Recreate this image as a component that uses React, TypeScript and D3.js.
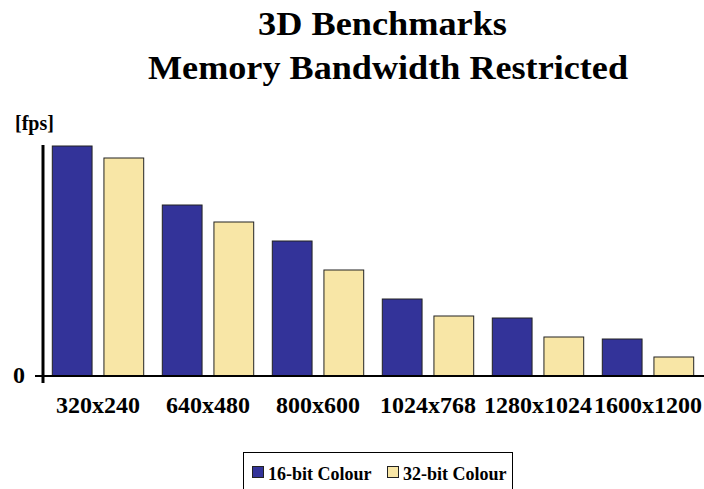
import React from 'react';
import * as d3 from 'd3';

const categories = ['320x240', '640x480', '800x600', '1024x768', '1280x1024', '1600x1200'];
const series16 = [230, 171, 135, 77, 58, 37];
const series32 = [218, 154, 106, 60, 39, 19];
const seriesNames = ['16-bit Colour', '32-bit Colour'];
const seriesColors = ['#333399', '#f8e6a6'];

const W = 704;
const H = 489;
const font = '"Liberation Serif", "Times New Roman", serif';

export default function App() {
  const ref = React.useRef<SVGSVGElement>(null);

  React.useEffect(() => {
    if (!ref.current) return;
    const svg = d3.select(ref.current);
    svg.selectAll('*').remove();

    const x0 = d3.scaleBand().domain(categories).range([43, 703]).paddingInner(0).paddingOuter(0);
    const x1 = d3.scaleBand().domain(seriesNames).range([0, x0.bandwidth()]).paddingInner(0.23).paddingOuter(0.18);
    const y = d3.scaleLinear().domain([0, 230]).range([376, 146]);

    // titles
    svg.append('text').attr('x', 258).attr('y', 35)
      .attr('textLength', 249).attr('lengthAdjust', 'spacingAndGlyphs')
      .style('font', `bold 34px ${font}`).text('3D Benchmarks');
    svg.append('text').attr('x', 148).attr('y', 79)
      .attr('textLength', 480).attr('lengthAdjust', 'spacingAndGlyphs')
      .style('font', `bold 34px ${font}`).text('Memory Bandwidth Restricted');
    svg.append('text').attr('x', 15).attr('y', 130)
      .style('font', `bold 20px ${font}`).text('[fps]');

    // bars
    const groups = svg.append('g').selectAll('g').data(categories).enter().append('g')
      .attr('transform', d => `translate(${x0(d)},0)`);
    groups.selectAll('rect')
      .data((_, i) => [series16[i], series32[i]].map((v, j) => ({ v, s: seriesNames[j], c: seriesColors[j] })))
      .enter().append('rect')
      .attr('x', d => x1(d.s)!)
      .attr('width', x1.bandwidth())
      .attr('y', d => y(d.v))
      .attr('height', d => y(0) - y(d.v))
      .attr('fill', d => d.c)
      .attr('stroke', '#222')
      .attr('stroke-width', 1);

    // axes
    svg.append('line').attr('x1', 35).attr('x2', 704).attr('y1', y(0)).attr('y2', y(0))
      .attr('stroke', '#000').attr('stroke-width', 2);
    svg.append('line').attr('x1', 43).attr('x2', 43).attr('y1', 145).attr('y2', 383)
      .attr('stroke', '#000').attr('stroke-width', 3);
    svg.append('text').attr('x', 25).attr('y', 383).attr('text-anchor', 'end')
      .style('font', `bold 24px ${font}`).text('0');

    svg.append('g').selectAll('text').data(categories).enter().append('text')
      .attr('x', d => x0(d)! + x0.bandwidth() / 2)
      .attr('y', 413)
      .attr('text-anchor', 'middle')
      .style('font', `bold 24px ${font}`)
      .text(d => d);

    // legend
    const lg = svg.append('g');
    lg.append('rect').attr('x', 243.5).attr('y', 452.5).attr('width', 269).attr('height', 45)
      .attr('fill', 'none').attr('stroke', '#000').attr('stroke-width', 1);
    const lx = [252, 387];
    seriesNames.forEach((n, i) => {
      lg.append('rect').attr('x', lx[i] + 0.5).attr('y', 466.5).attr('width', 11).attr('height', 11)
        .attr('fill', seriesColors[i]).attr('stroke', '#222');
      lg.append('text').attr('x', lx[i] + 16).attr('y', 480)
        .style('font', `bold 18px ${font}`).text(n);
    });
  }, []);

  return (
    <svg ref={ref} width={W} height={H} style={{ position: 'absolute', left: 0, top: 0, background: '#fff' }} />
  );
}
